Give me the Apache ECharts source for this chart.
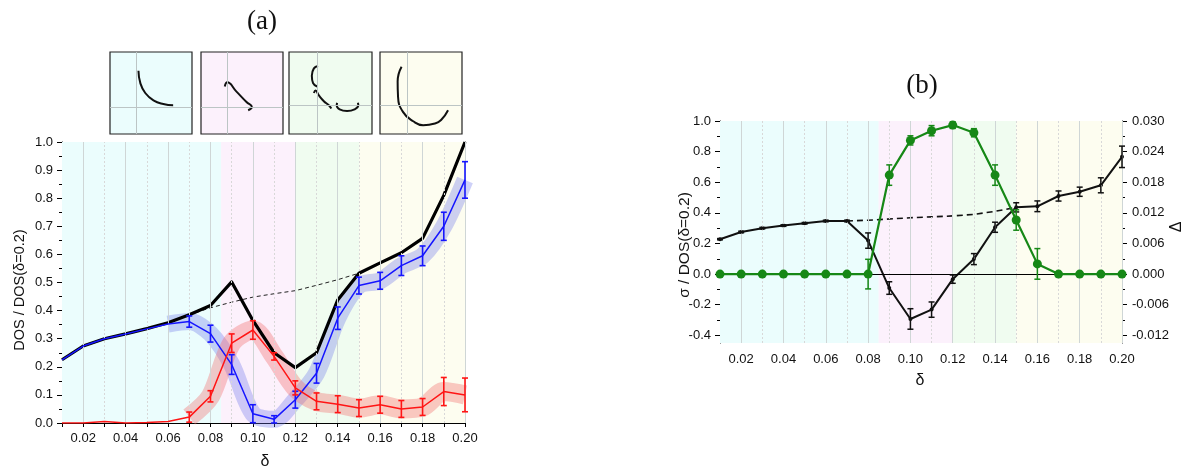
<!DOCTYPE html>
<html><head><meta charset="utf-8">
<script src="https://cdn.jsdelivr.net/npm/echarts@6/dist/echarts.min.js"></script>
<style>html,body{margin:0;padding:0;background:#fff}#c{width:1193px;height:472px}</style>
</head><body><div id="c"></div>
<script>
// ---------- data ----------
const delta = [0.01,0.02,0.03,0.04,0.05,0.06,0.07,0.08,0.09,0.10,0.11,0.12,0.13,0.14,0.15,0.16,0.17,0.18,0.19,0.20];
const xTickLabels = ['0.02','0.04','0.06','0.08','0.10','0.12','0.14','0.16','0.18','0.20'];
// panel (a)
const totalDOS = [0.225,0.274,0.300,0.317,0.336,0.357,0.385,0.418,0.502,0.365,0.250,0.197,0.250,0.438,0.533,0.570,0.606,0.657,0.810,1.000];
const holeDOS  = [0.225,0.274,0.300,0.317,0.335,0.352,0.361,0.318,0.208,0.033,0.013,0.083,0.177,0.373,0.489,0.506,0.560,0.595,0.700,0.865];
const holeErr  = [0,0,0,0,0,0,0.020,0.030,0.035,0.032,0.013,0.030,0.035,0.040,0.030,0.030,0.035,0.035,0.050,0.065];
const elecDOS  = [0.000,0.000,0.005,0.000,0.002,0.005,0.021,0.095,0.284,0.331,0.237,0.125,0.077,0.067,0.053,0.065,0.050,0.057,0.112,0.100];
const elecErr  = [0,0,0,0,0,0,0.018,0.020,0.033,0.033,0.013,0.025,0.030,0.030,0.030,0.030,0.030,0.030,0.050,0.060];
const dashedADelta = [0.07,0.08,0.09,0.10,0.11,0.12,0.13,0.14,0.15,0.16,0.17,0.18];
const dashedA  = [0.385,0.410,0.430,0.448,0.460,0.471,0.490,0.510,0.533,0.570,0.606,0.657];
// panel (b)
const sigma    = [0.228,0.275,0.300,0.317,0.332,0.347,0.347,0.219,-0.091,-0.293,-0.232,-0.033,0.098,0.306,0.436,0.443,0.510,0.538,0.580,0.766];
const sigmaErr = [0.004,0.005,0.005,0.005,0.005,0.005,0.005,0.050,0.041,0.067,0.050,0.027,0.036,0.033,0.030,0.035,0.033,0.030,0.049,0.070];
const gap      = [0,0,0,0,0,0,0,0,0.0194,0.0262,0.0281,0.0292,0.0277,0.0194,0.0106,0.0020,0,0,0,0];
const gapErr   = [0,0,0,0,0,0,0,0.0029,0.0020,0.0009,0.0010,0.00065,0.0008,0.0020,0.0020,0.0030,0,0,0,0];
const dashedBDelta = [0.07,0.08,0.09,0.10,0.11,0.12,0.13,0.14,0.15];
const dashedB  = [0.347,0.352,0.360,0.368,0.374,0.380,0.390,0.410,0.436];
const yTicksB  = [-0.4,-0.2,0,0.2,0.4,0.6,0.8,1.0];
const yMinorB  = [-0.3,-0.1,0.1,0.3,0.5,0.7,0.9];
const yTicksGap = [-0.012,-0.006,0,0.006,0.012,0.018,0.024,0.030];
const yMinorGap = [-0.009,-0.003,0.003,0.009,0.015,0.021,0.027];
// regions
const regionEdges = [0.01,0.085,0.12,0.15,0.20];
const regionColors = ['#ebfdfd','#fcf1fc','#f0fcf0','#fdfdf0'];
// inset Fermi-surface sketches (normalized box coords)
const insetCross = [[0.32,0.33],[0.32,0.33],[0.34,0.35],[0.33,0.35]];
const sketchI   = [[0.347,0.77],[0.37,0.62],[0.43,0.50],[0.53,0.41],[0.65,0.365],[0.77,0.35]];
const sketchII  = [[0.29,0.58],[0.32,0.63],[0.43,0.52],[0.555,0.39],[0.62,0.33],[0.575,0.29]];
const sketchIIIa = [[0.35,0.83],[0.30,0.80],[0.275,0.71],[0.29,0.62],[0.34,0.58]];
const sketchIIIb = [[0.30,0.50],[0.32,0.53],[0.36,0.47],[0.42,0.40],[0.48,0.35],[0.51,0.31]];
const sketchIIIc = [[0.58,0.38],[0.575,0.35],[0.61,0.30],[0.70,0.28],[0.79,0.30],[0.835,0.35],[0.83,0.38]];
const sketchIV  = [[0.263,0.82],[0.215,0.64],[0.22,0.455],[0.28,0.27],[0.405,0.155],[0.526,0.107],[0.67,0.127],[0.745,0.17],[0.83,0.29]];

// ---------- helpers ----------
const pair = (xs, ys) => xs.map((x,i)=>[x, ys[i]]);
const errData = (vals, errs) => delta.map((d,i)=>[d, vals[i]-errs[i], vals[i]+errs[i], errs[i]]).filter(r=>r[3]>0);
function errBar(color, cap, width){
  return function(params, api){
    const x = api.value(0);
    const a = api.coord([x, api.value(1)]);
    const b = api.coord([x, api.value(2)]);
    const st = {stroke: color, lineWidth: width};
    return {type:'group', children:[
      {type:'line', shape:{x1:a[0],y1:a[1],x2:b[0],y2:b[1]}, style:st},
      {type:'line', shape:{x1:a[0]-cap,y1:a[1],x2:a[0]+cap,y2:a[1]}, style:st},
      {type:'line', shape:{x1:b[0]-cap,y1:b[1],x2:b[0]+cap,y2:b[1]}, style:st}
    ]};
  };
}
const regionArea = () => regionColors.map((c,i)=>[{xAxis: regionEdges[i], itemStyle:{color:c}},{xAxis: regionEdges[i+1]}]);
const gridLines = () => delta.slice(1).map(d => {
  const even = Math.round(d*100) % 2 === 0;
  return {xAxis: d, lineStyle: even ? {color:'#cfd6d6', type:'solid', width:1} : {color:'#d8d8d8', type:[2,2], width:1}};
});
const FONT = "'Liberation Sans', Arial, sans-serif";
const SERIF = "'Liberation Serif', 'DejaVu Serif', serif";
const xLabelFmt = v => { const s = v.toFixed(2); return xTickLabels.indexOf(s) >= 0 ? s : ''; };

const axisLineBlack = {show:true, lineStyle:{color:'#000', width:1}};

function mainX(gridIndex, margin){
  return {type:'value', gridIndex, min:0.01, max:0.20, interval:0.01,
    axisLine: axisLineBlack, axisTick:{show:true, length:4, lineStyle:{color:'#000'}},
    axisLabel:{formatter:xLabelFmt, interval:0, margin, fontFamily:FONT, fontSize:13, color:'#111'},
    splitLine:{show:false}};
}
function insetAxis(gridIndex){ return {type:'value', gridIndex, min:0, max:1, show:false}; }

const chart = echarts.init(document.getElementById('c'), null, {renderer:'canvas'});

const insetGrids = [[110,52,82,82],[201,52,82,82],[289,52,83,82],[380,52,82,82]];
const sketches = [[sketchI],[sketchII],[sketchIIIa,sketchIIIb,sketchIIIc],[sketchIV]];

const series = [];
// ---- panel (a)
series.push({type:'line', xAxisIndex:0, yAxisIndex:0, data:pair(delta,totalDOS), silent:true, z:0,
  showSymbol:false, lineStyle:{opacity:0}, markArea:{silent:true, data:regionArea()}});
series.push({type:'line', xAxisIndex:0, yAxisIndex:0, data:pair(delta,totalDOS), silent:true, z:1,
  showSymbol:false, lineStyle:{opacity:0}, markLine:{silent:true, symbol:['none','none'], label:{show:false}, data:gridLines()}});
series.push({type:'line', xAxisIndex:0, yAxisIndex:0, data:pair(delta.slice(5),holeDOS.slice(5)), z:2, smooth:0.3,
  showSymbol:false, lineStyle:{width:17, color:'rgba(105,115,235,0.33)', join:'round', cap:'butt'}});
series.push({type:'line', xAxisIndex:0, yAxisIndex:0, data:pair(delta.slice(6),elecDOS.slice(6)), z:2, smooth:0.3,
  showSymbol:false, lineStyle:{width:19, color:'rgba(240,105,105,0.36)', join:'round', cap:'butt'}});
series.push({type:'line', xAxisIndex:0, yAxisIndex:0, data:pair(dashedADelta,dashedA), z:3,
  showSymbol:false, lineStyle:{width:1, color:'#222', type:[4,3]}});
series.push({type:'line', xAxisIndex:0, yAxisIndex:0, data:pair(delta,totalDOS), z:4,
  showSymbol:false, lineStyle:{width:3.2, color:'#000', join:'round'}});
series.push({type:'line', xAxisIndex:0, yAxisIndex:0, data:pair(delta,holeDOS), z:5,
  showSymbol:false, lineStyle:{width:1.5, color:'#1515ff'}});
series.push({type:'line', xAxisIndex:0, yAxisIndex:0, data:pair(delta,elecDOS), z:5,
  showSymbol:false, lineStyle:{width:1.5, color:'#ff1515'}});
series.push({type:'custom', xAxisIndex:0, yAxisIndex:0, data:errData(holeDOS,holeErr), z:6,
  renderItem:errBar('#1515ff',3,1.6), encode:{x:0,y:[1,2]}});
series.push({type:'custom', xAxisIndex:0, yAxisIndex:0, data:errData(elecDOS,elecErr), z:6,
  renderItem:errBar('#ff1515',3,1.6), encode:{x:0,y:[1,2]}});
// ---- panel (b)
series.push({type:'line', xAxisIndex:1, yAxisIndex:2, data:pair(delta,sigma), silent:true, z:0,
  showSymbol:false, lineStyle:{opacity:0}, markArea:{silent:true, data:regionArea()}});
series.push({type:'line', xAxisIndex:1, yAxisIndex:2, data:pair(delta,sigma), silent:true, z:1,
  showSymbol:false, lineStyle:{opacity:0}, markLine:{silent:true, symbol:['none','none'], label:{show:false},
  data:gridLines().concat([{yAxis:0, lineStyle:{color:'#000', type:'solid', width:1}}])}});
series.push({type:'line', xAxisIndex:1, yAxisIndex:2, data:pair(dashedBDelta,dashedB), z:3,
  showSymbol:false, lineStyle:{width:1.6, color:'#111', type:[6,4]}});
series.push({type:'line', xAxisIndex:1, yAxisIndex:2, data:pair(delta,sigma), z:4,
  symbol:'circle', symbolSize:4, itemStyle:{color:'#111'}, lineStyle:{width:2, color:'#111'}});
series.push({type:'custom', xAxisIndex:1, yAxisIndex:2, data:errData(sigma,sigmaErr), z:5,
  renderItem:errBar('#111',3,1.5), encode:{x:0,y:[1,2]}});
series.push({type:'line', xAxisIndex:1, yAxisIndex:3, data:pair(delta,gap), z:6,
  symbol:'circle', symbolSize:9, itemStyle:{color:'#168816'}, lineStyle:{width:2.2, color:'#168816'}});
series.push({type:'custom', xAxisIndex:1, yAxisIndex:3, data:errData(gap,gapErr), z:7,
  renderItem:errBar('#168816',3,1.5), encode:{x:0,y:[1,2]}});
// ---- insets
sketches.forEach((parts, k) => {
  parts.forEach((pts, j) => {
    const s = {type:'line', xAxisIndex:2+k, yAxisIndex:6+k, data:pts, smooth:0.5, showSymbol:false, z:3,
      lineStyle:{width:2, color:'#111'}};
    if (j === 0) s.markLine = {silent:true, symbol:['none','none'], label:{show:false},
      lineStyle:{color:'#bcc5c5', type:'solid', width:1},
      data:[{xAxis:insetCross[k][0]},{yAxis:insetCross[k][1]}]};
    series.push(s);
  });
});

const textEls = [];
function txt(t, x, y, size, family, extra){
  textEls.push(Object.assign({type:'text', x, y, silent:true,
    style:{text:t, font:`${size}px ${family}`, fill:'#111', align:'center', verticalAlign:'middle'}}, extra||{}));
}
txt('(a)', 262, 22, 27, SERIF);
txt('(b)', 922, 86, 27, SERIF);
txt('I', 156, 157, 21, SERIF); txt('hole arc', 158, 174, 14.5, FONT);
txt('II', 257, 157, 21, SERIF); txt('electron', 257, 173, 14.5, FONT); txt('pocket', 257, 191, 14.5, FONT);
txt('III', 327, 157, 21, SERIF); txt('2 hole +', 329, 173, 14.5, FONT); txt('electron', 329, 191, 14.5, FONT); txt('pockets', 329, 209, 14.5, FONT);
txt('IV', 408, 157, 21, SERIF); txt('hole arc', 408, 173, 14.5, FONT);
txt('δ', 265, 462, 16, FONT);
txt('δ', 920, 381, 16, FONT);
txt('DOS / DOS(δ=0.2)', 20, 290, 14.5, FONT, {rotation: Math.PI/2});
txt('σ / DOS(δ=0.2)', 685, 245, 15.5, FONT, {rotation: Math.PI/2});
txt('Δ', 1177, 227, 16, FONT, {rotation: Math.PI/2});

chart.setOption({
  animation:false,
  backgroundColor:'#fff',
  grid:[
    {left:62, top:142, width:403, height:281},
    {left:720, top:121, width:402, height:222},
  ].concat(insetGrids.map((g,i)=>({left:g[0], top:g[1], width:g[2], height:g[3], show:true,
      backgroundColor:regionColors[i], borderColor:'#222', borderWidth:1.2}))),
  xAxis:[mainX(0,9), mainX(1,10)].concat([2,3,4,5].map(insetAxis)),
  yAxis:[
    {type:'value', gridIndex:0, min:0, max:1, interval:0.1,
      axisLine:axisLineBlack, axisTick:{show:true, length:5, lineStyle:{color:'#000'}},
      minorTick:{show:true, splitNumber:2, length:3, lineStyle:{color:'#000'}},
      axisLabel:{formatter:v=>v.toFixed(1), margin:9, fontFamily:FONT, fontSize:13, color:'#111'},
      splitLine:{show:false}},
    {type:'value', gridIndex:0, min:0, max:1, position:'right',
      axisLine:{show:true, lineStyle:{color:'#222', width:1}}, axisTick:{show:false}, axisLabel:{show:false}, splitLine:{show:false}},
    {type:'value', gridIndex:1, min:-0.45, max:1.0, position:'left', offset:0,
      axisLine:axisLineBlack, axisTick:{show:true, length:5, customValues:yTicksB, lineStyle:{color:'#000'}},
      axisLabel:{customValues:yTicksB, formatter:v=>v.toFixed(1), margin:9, fontFamily:FONT, fontSize:13, color:'#111'},
      splitLine:{show:false}},
    {type:'value', gridIndex:1, min:-0.0135, max:0.03, position:'right', offset:0,
      axisLine:axisLineBlack, axisTick:{show:true, length:5, customValues:yTicksGap, lineStyle:{color:'#000'}},
      axisLabel:{customValues:yTicksGap, formatter:v=>v.toFixed(3), margin:10, fontFamily:FONT, fontSize:13, color:'#111'},
      splitLine:{show:false}},
    {type:'value', gridIndex:1, min:-0.45, max:1.0, position:'left', offset:0,
      axisLine:{show:false}, axisTick:{show:true, length:3, customValues:yMinorB, lineStyle:{color:'#000'}},
      axisLabel:{show:false, customValues:yMinorB}, splitLine:{show:false}},
    {type:'value', gridIndex:1, min:-0.0135, max:0.03, position:'right', offset:0,
      axisLine:{show:false}, axisTick:{show:true, length:3, customValues:yMinorGap, lineStyle:{color:'#000'}},
      axisLabel:{show:false, customValues:yMinorGap}, splitLine:{show:false}},
  ].concat([2,3,4,5].map(insetAxis)),
  series,
  graphic: textEls
});
</script></body></html>
